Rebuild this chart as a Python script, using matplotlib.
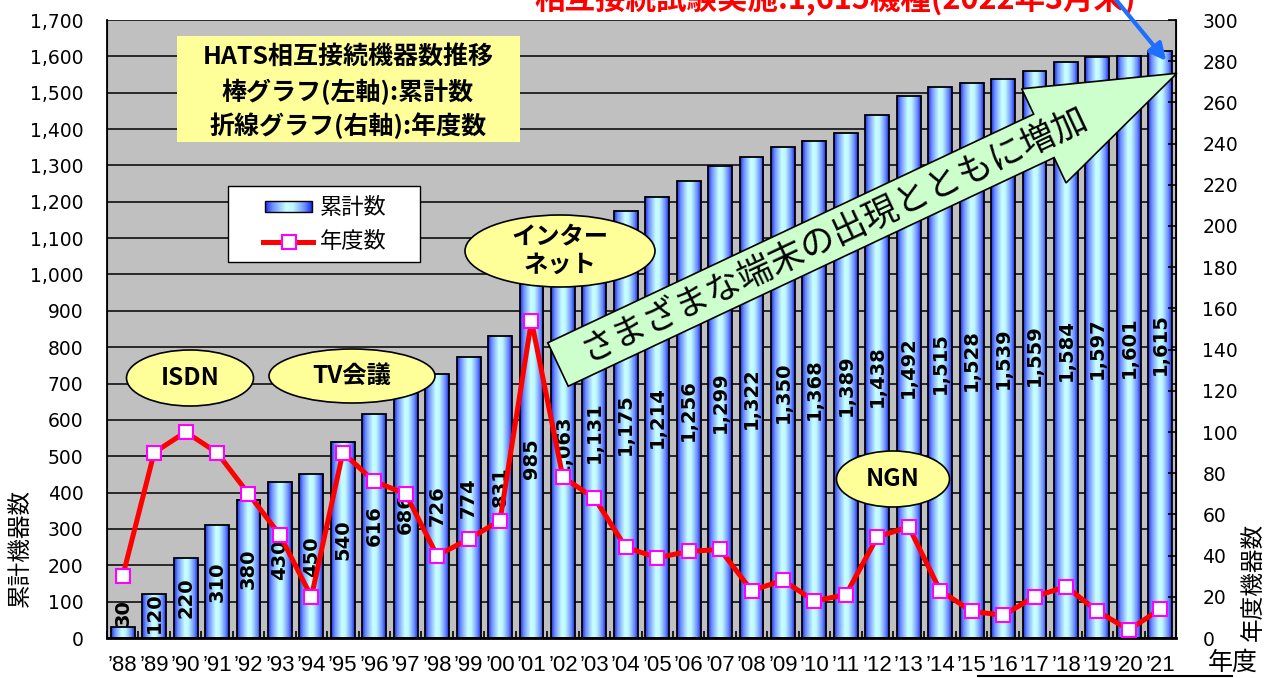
import matplotlib.pyplot as plt
import numpy as np
from matplotlib.colors import LinearSegmentedColormap
from matplotlib.patches import Ellipse, Rectangle, Polygon

# 年度ごとのデータ
years = ["’88", "’89", "’90", "’91", "’92", "’93", "’94", "’95", "’96", "’97",
         "’98", "’99", "’00", "’01", "’02", "’03", "’04", "’05", "’06", "’07",
         "’08", "’09", "’10", "’11", "’12", "’13", "’14", "’15", "’16", "’17",
         "’18", "’19", "’20", "’21"]
cumulative = [30, 120, 220, 310, 380, 430, 450, 540, 616, 686,
              726, 774, 831, 985, 1063, 1131, 1175, 1214, 1256, 1299,
              1322, 1350, 1368, 1389, 1438, 1492, 1515, 1528, 1539, 1559,
              1584, 1597, 1601, 1615]
annual = [30, 90, 100, 90, 70, 50, 20, 90, 76, 70,
          40, 48, 57, 154, 78, 68, 44, 39, 42, 43,
          23, 28, 18, 21, 49, 54, 23, 13, 11, 20,
          25, 13, 4, 14]

CJK = ["Noto Sans CJK JP", "DejaVu Sans"]
W, H = 1268, 678

bar_cmap = LinearSegmentedColormap.from_list(
    "bar", [(0.0, "#1A2CF0"), (0.15, "#6C8EFF"), (0.45, "#C8FFFF"),
            (0.6, "#C0F8FF"), (0.85, "#6E90FF"), (1.0, "#1A2CF0")])

fig = plt.figure(figsize=(W / 100, H / 100), dpi=100)
ax = fig.add_axes([107 / W, 1 - 638 / H, 1069 / W, 618 / H])
ax.set_facecolor("#C0C0C0")

x = np.arange(len(years))
bars = ax.bar(x, cumulative, width=0.76, facecolor="none",
              edgecolor="black", linewidth=1.3, zorder=3)
grad = np.linspace(0, 1, 64).reshape(1, -1)
for b in bars:
    ax.imshow(grad, cmap=bar_cmap, aspect="auto", zorder=2.5,
              interpolation="bilinear",
              extent=(b.get_x(), b.get_x() + b.get_width(), 0, b.get_height()))

for i, v in enumerate(cumulative):
    ax.text(i, max(v / 2, 70), f"{v:,}", rotation=90, ha="center", va="center",
            fontsize=14, fontweight="bold",
            family=["Liberation Sans Narrow", "DejaVu Sans"], zorder=4)

ax.set_xlim(-0.5, len(years) - 0.5)
ax.set_ylim(0, 1700)
ax.set_yticks(range(0, 1701, 100))
ax.yaxis.set_major_formatter(lambda v, p: f"{int(v):,}")
ax.yaxis.grid(True, color="black", linewidth=1.1)
ax.set_axisbelow(True)
ax.tick_params(axis="y", length=0, labelsize=13.5, pad=17)
ax.set_xticks(x)
ax.set_xticklabels(years, fontsize=16, family="Liberation Sans")
ax.tick_params(axis="x", length=0, pad=12)
ax.set_xticks(np.arange(-0.5, len(years), 1), minor=True)
ax.tick_params(axis="x", which="minor", direction="in", length=5, width=1.2)
ax.spines["top"].set_visible(False)
ax.spines["bottom"].set_linewidth(2)
ax.spines["left"].set_linewidth(1.3)

ax2 = ax.twinx()
ax2.plot(x, annual, color="red", linewidth=3.6, marker="s", markersize=10,
         markerfacecolor="white", markeredgecolor="#FF00FF",
         markeredgewidth=1.5, zorder=5)
ax2.set_ylim(0, 300)
ax2.set_yticks(range(0, 301, 20))
ax2.tick_params(axis="y", direction="in", length=6, width=1.2,
                labelsize=13.5, pad=19)
ax2.spines["top"].set_visible(False)
ax2.spines["right"].set_linewidth(1.3)

# 注記用のオーバーレイ（ピクセル座標）
ov = fig.add_axes([0, 0, 1, 1], zorder=10)
ov.axis("off")

ov.text(835, 0, "相互接続試験実施:1,615機種(2022年3月末)", color="red",
        fontsize=22, fontweight="bold", ha="center", va="center", family=CJK)
ov.annotate("", xy=(1168, 63), xytext=(1112, -5),
            arrowprops=dict(arrowstyle="-|>", color="#1F6FFF", lw=3,
                            mutation_scale=25))

ov.add_patch(Rectangle((177, 36), 343, 106, facecolor="#FFFF99",
                       edgecolor="none"))
for yy, s in zip([57, 92, 126], ["HATS相互接続機器数推移",
                                 "棒グラフ(左軸):累計数",
                                 "折線グラフ(右軸):年度数"]):
    ov.text(348, yy, s, fontsize=18, fontweight="bold", ha="center",
            va="center", family=CJK)

# 凡例
ov.add_patch(Rectangle((228, 186), 192, 76, facecolor="white",
                       edgecolor="black", linewidth=1))
ov.imshow(grad, cmap=bar_cmap, aspect="auto", extent=(265, 312, 212, 201),
          zorder=2)
ov.add_patch(Rectangle((265, 201), 47, 11, facecolor="none",
                       edgecolor="black", linewidth=1, zorder=3))
ov.plot([263, 313], [242, 242], color="red", linewidth=3.6)
ov.plot([289], [242], marker="s", markersize=10, markerfacecolor="white",
        markeredgecolor="#FF00FF", markeredgewidth=1.5)
ov.text(320, 207, "累計数", fontsize=16, va="center", family=CJK)
ov.text(320, 242, "年度数", fontsize=16, va="center", family=CJK)

# 吹き出し
bubbles = [((190, 378), 127, 56, "ISDN"), ((352, 376), 166, 54, "TV会議"),
           ((560, 251), 190, 72, "インター\nネット"), ((893, 479), 113, 56, "NGN")]
for (cx, cy), bw, bh, s in bubbles:
    ov.add_patch(Ellipse((cx, cy), bw, bh, facecolor="#FFFF99",
                         edgecolor="black", linewidth=1.2))
    ov.text(cx, cy, s, fontsize=17.5, fontweight="bold", ha="center",
            va="center", family=CJK, linespacing=1.2)

# 大きな矢印
ang = np.deg2rad(25.2)
u = np.array([np.cos(ang), -np.sin(ang)])
nrm = np.array([np.sin(ang), np.cos(ang)])
tail = np.array([558, 364.5])
shaft_len, head_len, hw, hh = 537, 147, 24, 52
base = tail + shaft_len * u
pts = [tail - hw * nrm, base - hw * nrm, base - hh * nrm, base + head_len * u,
       base + hh * nrm, base + hw * nrm, tail + hw * nrm]
ov.add_patch(Polygon(pts, closed=True, facecolor="#CCFFCC", edgecolor="black",
                     linewidth=1.2))
tc = tail + 305 * u
ov.text(tc[0], tc[1], "さまざまな端末の出現とともに増加", fontsize=25,
        rotation=25.2, rotation_mode="anchor", ha="center", va="center",
        family=CJK)

ov.text(20, 548, "累計機器数", rotation=90, fontsize=17, ha="center",
        va="center", family=CJK)
ov.text(1253, 582, "年度機器数", rotation=90, fontsize=17, ha="center",
        va="center", family=CJK)
ov.text(1233, 663, "年度", fontsize=18, ha="center", va="center", family=CJK)
ov.plot([978, 1232], [676, 676], color="black", linewidth=1.5)

ov.set_xlim(0, W)
ov.set_ylim(H, 0)

fig.savefig("out.png", dpi=100)
